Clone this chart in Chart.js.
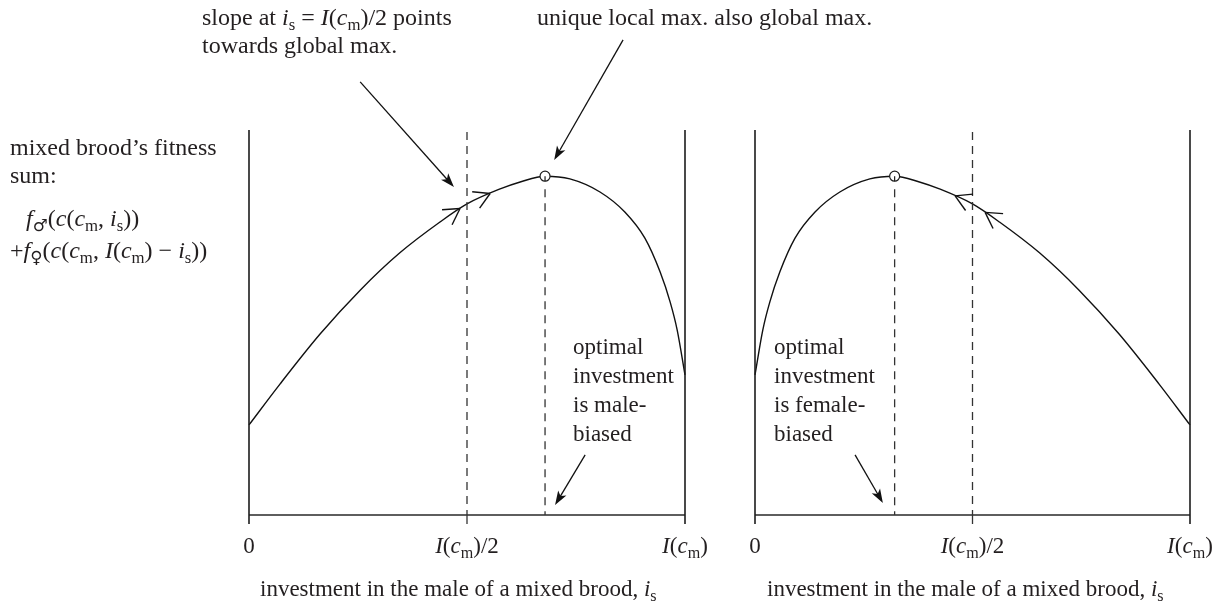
<!DOCTYPE html>
<html><head><meta charset="utf-8">
<script src="https://cdn.jsdelivr.net/npm/chart.js@4.4.0/dist/chart.umd.min.js"></script>
<style>
html,body{margin:0;padding:0;background:#fff;}
#wrap{position:relative;width:1216px;height:602px;overflow:hidden;background:#fff;}
canvas{position:absolute;left:0;top:0;}
.t{position:absolute;white-space:nowrap;font-family:"Liberation Serif","Times New Roman",serif;font-size:23px;line-height:23px;color:#231f20;}
.big{font-size:24px;line-height:24px;}
.t i{font-style:italic;}
.t sub{font-size:70%;position:relative;top:0.3em;vertical-align:baseline;line-height:0;}
.sym{font-family:"DejaVu Sans",sans-serif;font-style:normal;}
.eq{margin:0 0.25em;}
</style></head>
<body><div id="wrap"><canvas id="c1" width="1216" height="602"></canvas><canvas id="c2" width="1216" height="602"></canvas></div>
<script>
// investment in the male as a fraction of I(c_m)
const leftX = [0, 0.071, 0.163, 0.255, 0.346, 0.438, 0.5, 0.576, 0.622, 0.679, 0.736, 0.805, 0.862, 0.908, 0.943, 0.966, 0.982, 1];
const leftFitness = [23.4, 34.0, 47.0, 58.4, 68.1, 76.1, 80.8, 84.7, 86.5, 88.0, 87.3, 83.9, 78.7, 71.9, 63.1, 55.3, 48.1, 36.4];
const rightX = [0, 0.018, 0.034, 0.057, 0.092, 0.138, 0.195, 0.264, 0.321, 0.378, 0.424, 0.5, 0.562, 0.654, 0.745, 0.837, 0.929, 1];
const rightFitness = [36.4, 48.1, 55.3, 63.1, 71.9, 78.7, 83.9, 87.3, 88.0, 86.5, 84.7, 80.8, 76.1, 68.1, 58.4, 47.0, 34.0, 23.4];
const tickValues = [0, 0.5, 1];
const tickLabels = ['0', '<i>I</i>(<i>c</i><sub>m</sub>)/2', '<i>I</i>(<i>c</i><sub>m</sub>)'];
const halfInvestment = 0.5;
// open arrowheads on the curve (tip positions)
const leftChevronX = [0.484, 0.553];
const leftChevronY = [79.6, 83.5];
const rightChevronX = [0.46, 0.529];
const rightChevronY = [82.9, 78.6];
// annotation arrows [fromX, fromY, toX, toY] in data units
const leftPointers = [[0.255, 112.5, 0.470, 85.2], [0.858, 123.4, 0.700, 92.2], [0.771, 15.6, 0.702, 2.6]];
const rightPointers = [[0.230, 15.6, 0.294, 3.1]];

const wrap = document.getElementById('wrap');
function place(html, x, baseline, align, cls){
  const d = document.createElement('div');
  d.className = 't' + (cls ? ' ' + cls : '');
  d.innerHTML = html;
  d.style.left = x + 'px';
  d.style.top = (baseline - (cls === 'big' ? 20.1 : 19.3)) + 'px';
  if (align === 'center') d.style.transform = 'translateX(-50%)';
  wrap.appendChild(d);
}

function decor(xs, ys, chevX, chevY, dir, pointers){
  return {id:'decor', afterDatasetsDraw(chart){
    const ctx = chart.ctx, sx = chart.scales.x, sy = chart.scales.y;
    const X = v => sx.getPixelForValue(v), Y = v => sy.getPixelForValue(v);
    const base = Y(0), top = Y(100);
    ctx.save();
    ctx.lineCap = 'butt';
    // baseline
    ctx.strokeStyle = '#5e5e5e'; ctx.lineWidth = 2;
    ctx.beginPath(); ctx.moveTo(X(0), base); ctx.lineTo(X(1), base); ctx.stroke();
    // solid verticals at 0 and I(c_m)
    ctx.strokeStyle = '#1c1c1c'; ctx.lineWidth = 1.6;
    [0, 1].forEach(v => { ctx.beginPath(); ctx.moveTo(X(v), top); ctx.lineTo(X(v), base + 9); ctx.stroke(); });
    // tick at half
    ctx.strokeStyle = '#333'; ctx.lineWidth = 1.3;
    ctx.beginPath(); ctx.moveTo(X(halfInvestment), base); ctx.lineTo(X(halfInvestment), base + 9); ctx.stroke();
    // optimum
    let im = 0; ys.forEach((v, i) => { if (v > ys[im]) im = i; });
    const ox = X(xs[im]), oy = Y(ys[im]);
    ctx.setLineDash([8, 6]); ctx.strokeStyle = '#333'; ctx.lineWidth = 1.3;
    ctx.beginPath(); ctx.moveTo(X(halfInvestment), top + 2); ctx.lineTo(X(halfInvestment), base); ctx.stroke();
    ctx.beginPath(); ctx.moveTo(ox, oy + 13); ctx.lineTo(ox, base); ctx.stroke();
    ctx.setLineDash([]);
    // circle marker
    ctx.strokeStyle = '#1c1c1c'; ctx.lineWidth = 1.2; ctx.fillStyle = '#fff';
    ctx.beginPath(); ctx.arc(ox, oy, 5, 0, Math.PI * 2); ctx.fill(); ctx.stroke();
    ctx.beginPath(); ctx.moveTo(ox, oy); ctx.lineTo(ox, oy + 5); ctx.stroke();
    // chevrons
    ctx.lineWidth = 1.4; ctx.strokeStyle = '#111';
    chevX.forEach((cx, k) => {
      let i = 0; while (i < xs.length - 2 && xs[i + 1] < cx) i++;
      let dx = X(xs[i + 1]) - X(xs[i]), dy = Y(ys[i + 1]) - Y(ys[i]);
      const L = Math.hypot(dx, dy); dx = dx / L * dir; dy = dy / L * dir;
      const tx = X(cx), ty = Y(chevY[k]);
      const len = 18, a = 30 * Math.PI / 180;
      [a, -a].forEach(ang => {
        const bx = -(dx * Math.cos(ang) - dy * Math.sin(ang));
        const by = -(dx * Math.sin(ang) + dy * Math.cos(ang));
        ctx.beginPath(); ctx.moveTo(tx, ty); ctx.lineTo(tx + bx * len, ty + by * len); ctx.stroke();
      });
    });
    // pointer arrows
    ctx.lineWidth = 1.3; ctx.strokeStyle = '#111'; ctx.fillStyle = '#111';
    pointers.forEach(p => {
      const x1 = X(p[0]), y1 = Y(p[1]), x2 = X(p[2]), y2 = Y(p[3]);
      let dx = x2 - x1, dy = y2 - y1; const L = Math.hypot(dx, dy); dx /= L; dy /= L;
      const hl = 14, hw = 4.8;
      ctx.beginPath(); ctx.moveTo(x1, y1); ctx.lineTo(x2 - dx * hl * 0.6, y2 - dy * hl * 0.6); ctx.stroke();
      ctx.beginPath(); ctx.moveTo(x2, y2);
      ctx.lineTo(x2 - dx * hl - dy * hw, y2 - dy * hl + dx * hw);
      ctx.lineTo(x2 - dx * hl * 0.75, y2 - dy * hl * 0.75);
      ctx.lineTo(x2 - dx * hl + dy * hw, y2 - dy * hl - dx * hw);
      ctx.closePath(); ctx.fill();
    });
    ctx.restore();
  }};
}

function makeChart(id, xs, ys, padLeft, padRight, chevX, chevY, dir, pointers){
  return new Chart(document.getElementById(id), {
    type: 'line',
    data: {datasets: [{data: xs.map((x, i) => ({x: x, y: ys[i]})), borderColor: '#111', borderWidth: 1.4,
      pointRadius: 0, cubicInterpolationMode: 'monotone', fill: false, clip: false}]},
    options: {
      responsive: false, animation: false, devicePixelRatio: 1,
      layout: {padding: {left: padLeft, right: padRight, top: 130, bottom: 87}},
      scales: {x: {type: 'linear', min: 0, max: 1, display: false}, y: {min: 0, max: 100, display: false}},
      plugins: {legend: {display: false}, tooltip: {enabled: false}}
    },
    plugins: [decor(xs, ys, chevX, chevY, dir, pointers)]
  });
}

const c1 = makeChart('c1', leftX, leftFitness, 249, 1216 - 685, leftChevronX, leftChevronY, 1, leftPointers);
const c2 = makeChart('c2', rightX, rightFitness, 755, 1216 - 1190, rightChevronX, rightChevronY, -1, rightPointers);

[c1, c2].forEach(ch => {
  tickValues.forEach((v, i) => place(tickLabels[i], ch.scales.x.getPixelForValue(v), 553, 'center'));
});
const axisTitle = 'investment in the male of a mixed brood, <i>i</i><sub>s</sub>';
place(axisTitle, 260, 596);
place(axisTitle, 767, 596);

place('slope at <i>i</i><sub>s</sub><span class="eq">=</span><i>I</i>(<i>c</i><sub>m</sub>)/2 points', 202, 25, null, 'big');
place('towards global max.', 202, 53, null, 'big');
place('unique local max. also global max.', 537, 25, null, 'big');
place('mixed brood’s fitness', 10, 155, null, 'big');
place('sum:', 10, 183, null, 'big');
place('<i>f</i><sub class="sym">♂</sub>(<i>c</i>(<i>c</i><sub>m</sub>, <i>i</i><sub>s</sub>))', 26, 226, null, 'big');
place('+<i>f</i><sub class="sym">♀</sub>(<i>c</i>(<i>c</i><sub>m</sub>, <i>I</i>(<i>c</i><sub>m</sub>)<span class="eq">−</span><i>i</i><sub>s</sub>))', 10, 258, null, 'big');
['optimal', 'investment', 'is male-', 'biased'].forEach((s, i) => place(s, 573, 354 + i * 29));
['optimal', 'investment', 'is female-', 'biased'].forEach((s, i) => place(s, 774, 354 + i * 29));
</script></body></html>
